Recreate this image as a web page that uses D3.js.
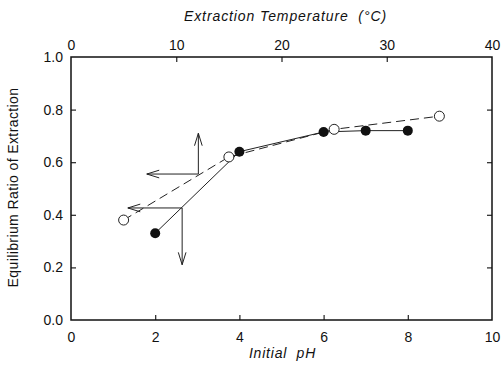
<!DOCTYPE html>
<html>
<head>
<meta charset="utf-8">
<script src="https://cdn.jsdelivr.net/npm/d3@7"></script>
<style>
  body { margin: 0; background: #fff; }
  text { font-family: "Liberation Sans", Arial, sans-serif; fill: #111; }
</style>
</head>
<body>
<div id="chart"></div>
<script>
// pH series (filled circles, solid line, bottom axis)
var phValues = [2, 4, 6, 7, 8];
var phRatios = [0.33, 0.64, 0.715, 0.72, 0.72];

// temperature series (open circles, dashed line, top axis)
var tempValues = [5, 15, 25, 35];
var tempRatios = [0.38, 0.62, 0.725, 0.775];

// tick labels
var phTicks = [0, 2, 4, 6, 8, 10];
var tempTicks = [0, 10, 20, 30, 40];
var ratioTicks = [0.0, 0.2, 0.4, 0.6, 0.8, 1.0];

// axis pointers: [x at corner, ratio at corner, end of vertical arrow, x at end of horizontal arrow]
var tempPointer = [12.1, 0.555, 0.71, 7.2];   // in temperature units
var phPointer = [2.64, 0.426, 0.21, 1.35];     // in pH units

var margin = {top: 57, right: 11, bottom: 49, left: 71},
    width = 503 - margin.left - margin.right,
    height = 369 - margin.top - margin.bottom;

var svg = d3.select("#chart")
  .append("svg")
    .attr("width", width + margin.left + margin.right)
    .attr("height", height + margin.top + margin.bottom)
  .append("g")
    .attr("transform", "translate(" + margin.left + "," + margin.top + ")");

var x = d3.scaleLinear().domain([0, 10]).range([0, width]);
var xt = d3.scaleLinear().domain([0, 40]).range([0, width]);
var y = d3.scaleLinear().domain([0, 1]).range([height, 0]);

var fmt = d3.format(".1f");

// axes, ticks pointing inward
var bottomAxis = svg.append("g")
  .attr("transform", "translate(0," + height + ")")
  .call(d3.axisBottom(x).tickValues(phTicks).tickSize(-5).tickPadding(12).tickFormat(d3.format("d")));
var topAxis = svg.append("g")
  .call(d3.axisTop(xt).tickValues(tempTicks).tickSize(-5).tickPadding(7).tickFormat(d3.format("d")));
var leftAxis = svg.append("g")
  .call(d3.axisLeft(y).tickValues(ratioTicks).tickSize(-5).tickPadding(8).tickFormat(fmt));
var rightAxis = svg.append("g")
  .attr("transform", "translate(" + width + ",0)")
  .call(d3.axisRight(y).tickValues(ratioTicks).tickSize(-5).tickFormat(""));

[bottomAxis, topAxis, leftAxis, rightAxis].forEach(function(a) {
  a.attr("font-size", null);
  a.select(".domain").remove();
  a.selectAll("line").attr("stroke", "#222").attr("stroke-width", 1.2);
  a.selectAll("text").style("font-size", "14px").style("fill", "#111")
    .style("font-family", "Liberation Sans, Arial, sans-serif");
});
// no tick marks on the frame corners
bottomAxis.selectAll(".tick").filter(function(d) { return d === 0 || d === 10; }).select("line").remove();
topAxis.selectAll(".tick").filter(function(d) { return d === 0 || d === 40; }).select("line").remove();
leftAxis.selectAll(".tick").filter(function(d) { return d === 0 || d === 1; }).select("line").remove();
rightAxis.selectAll(".tick").filter(function(d) { return d === 0 || d === 1; }).select("line").remove();

// frame
svg.append("rect")
  .attr("width", width)
  .attr("height", height)
  .attr("fill", "none")
  .attr("stroke", "#111")
  .attr("stroke-width", 1.5);

// axis titles
svg.append("text")
  .attr("x", width / 2 + 4)
  .attr("y", -36)
  .attr("text-anchor", "middle")
  .style("font-size", "14px")
  .style("font-style", "italic")
  .style("letter-spacing", "0.9px")
  .style("white-space", "pre")
  .text("Extraction Temperature  (°C)");

svg.append("text")
  .attr("x", width / 2 + 1)
  .attr("y", height + 38)
  .attr("text-anchor", "middle")
  .style("font-size", "14px")
  .style("font-style", "italic")
  .style("letter-spacing", "0.8px")
  .style("white-space", "pre")
  .text("Initial  pH");

svg.append("text")
  .attr("transform", "rotate(-90)")
  .attr("x", -(height / 2) + 1)
  .attr("y", -53)
  .attr("text-anchor", "middle")
  .style("font-size", "14px")
  .style("letter-spacing", "0.4px")
  .text("Equilibrium Ratio of Extraction");

// lines
var tempPts = tempValues.map(function(d, i) { return [d, tempRatios[i]]; });
var phPts = phValues.map(function(d, i) { return [d, phRatios[i]]; });

svg.append("path")
  .datum(tempPts)
  .attr("d", d3.line().x(function(d) { return xt(d[0]); }).y(function(d) { return y(d[1]); }))
  .attr("fill", "none")
  .attr("stroke", "#222")
  .attr("stroke-width", 1)
  .attr("stroke-dasharray", "9,5");

svg.append("path")
  .datum(phPts)
  .attr("d", d3.line().x(function(d) { return x(d[0]); }).y(function(d) { return y(d[1]); }))
  .attr("fill", "none")
  .attr("stroke", "#222")
  .attr("stroke-width", 1);

// axis pointer arrows
function arrowHead(g, x1, y1, x2, y2) {
  var ang = Math.atan2(y2 - y1, x2 - x1), len = 13, spread = 0.3;
  [-spread, spread].forEach(function(s) {
    g.append("line")
      .attr("x1", x2).attr("y1", y2)
      .attr("x2", x2 - len * Math.cos(ang + s))
      .attr("y2", y2 - len * Math.sin(ang + s));
  });
}
function pointer(sx, p) {
  var g = svg.append("g").attr("stroke", "#222").attr("stroke-width", 1);
  var cx = sx(p[0]), cy = y(p[1]), vy = y(p[2]), hx = sx(p[3]);
  g.append("line").attr("x1", cx).attr("y1", cy).attr("x2", cx).attr("y2", vy);
  g.append("line").attr("x1", cx).attr("y1", cy).attr("x2", hx).attr("y2", cy);
  arrowHead(g, cx, cy, cx, vy);
  arrowHead(g, cx, cy, hx, cy);
}
pointer(xt, tempPointer);
pointer(x, phPointer);

// markers
svg.selectAll(".open")
  .data(tempPts)
  .enter()
  .append("circle")
    .attr("cx", function(d) { return xt(d[0]); })
    .attr("cy", function(d) { return y(d[1]); })
    .attr("r", 5)
    .attr("fill", "#fff")
    .attr("stroke", "#222")
    .attr("stroke-width", 1);

svg.selectAll(".filled")
  .data(phPts)
  .enter()
  .append("circle")
    .attr("cx", function(d) { return x(d[0]); })
    .attr("cy", function(d) { return y(d[1]); })
    .attr("r", 5)
    .attr("fill", "#111");
</script>
</body>
</html>
